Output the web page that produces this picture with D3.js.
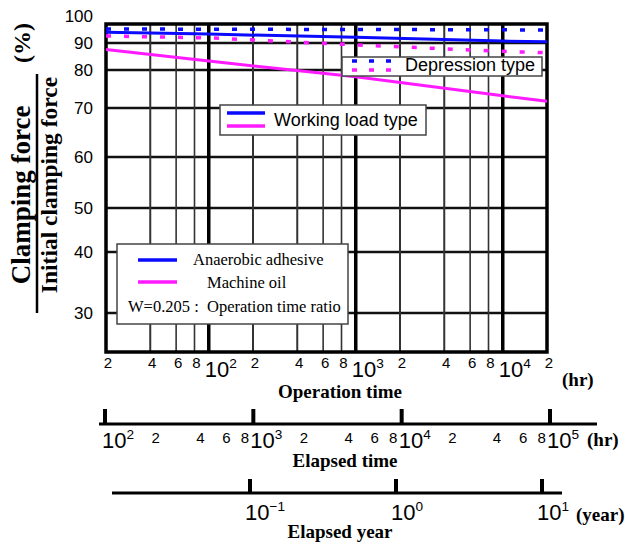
<!DOCTYPE html>
<html>
<head>
<meta charset="utf-8">
<script src="https://cdn.jsdelivr.net/npm/d3@7"></script>
<style>
  body { margin: 0; background: #fff; }
  svg { display: block; }
  .serif { font-family: "Liberation Serif", "Times New Roman", serif; }
  .sans { font-family: "Liberation Sans", Arial, sans-serif; }
  .narrow { font-family: "Liberation Sans Narrow", "Arial Narrow", sans-serif; }
</style>
</head>
<body>
<div class="chart"></div>
<script>
const opTime = [20, 100, 1000, 10000, 20000];
// clamping force / initial clamping force (%)
const adhesiveWorking = [94.0, 93.3, 92.1, 90.7, 90.5];
const adhesiveDepression = [95.2, 95.1, 95.0, 94.9, 94.8];
const oilWorking = [87.6, 83.3, 78.2, 73.2, 71.8];
const oilDepression = [92.6, 91.9, 89.3, 86.9, 86.4];

const yTicks = [100, 90, 80, 70, 60, 50, 40, 30];
const opDecades = [100, 1000, 10000];
const opMinor = [40, 60, 80, 200, 400, 600, 800, 2000, 4000, 6000, 8000];
const opMinorLabels = [20, 40, 60, 80, 200, 400, 600, 800, 2000, 4000, 6000, 8000, 20000];
const elapsedDecades = [100, 1000, 10000, 100000];
const elapsedMinorLabels = [200, 400, 600, 800, 2000, 4000, 6000, 8000, 20000, 40000, 60000, 80000];
const yearDecades = [0.1, 1, 10];

const W = 625, H = 544;
const plotLeft = 106, plotRight = 547, plotTop = 24, plotBottom = 352;

const svg = d3.select(".chart").append("svg")
  .attr("width", W).attr("height", H);

const x = d3.scaleLog().domain([20, 20000]).range([plotLeft, plotRight]);
// printed ordinate is not a clean log scale, so map it piece by piece
const y = d3.scaleLinear().domain(yTicks).range([16, 43, 70, 108, 157, 208, 252, 313]);
const xElapsed = d3.scaleLog().domain([100, 100000]).range([105, 550]);
const xYear = d3.scaleLog().domain([0.1, 10]).range([250, 542]);

const mantissa = (d) => Math.round(d / Math.pow(10, Math.floor(Math.log10(d) + 1e-9)));
const expo = (d) => Math.round(Math.log10(d));

//grid
const grid = svg.append("g");
grid.selectAll(".hg").data(yTicks.slice(1)).join("line")
  .attr("x1", plotLeft).attr("x2", plotRight)
  .attr("y1", (d) => y(d)).attr("y2", (d) => y(d))
  .attr("stroke", "#111").attr("stroke-width", 2.5);
grid.selectAll(".vm").data(opMinor).join("line")
  .attr("x1", (d) => x(d)).attr("x2", (d) => x(d))
  .attr("y1", plotTop).attr("y2", plotBottom)
  .attr("stroke", "#333").attr("stroke-width", (d) => mantissa(d) <= 4 ? 2 : 1.6);
grid.selectAll(".vd").data(opDecades).join("line")
  .attr("x1", (d) => x(d)).attr("x2", (d) => x(d))
  .attr("y1", plotTop).attr("y2", plotBottom)
  .attr("stroke", "#000").attr("stroke-width", 3.5);

// frame
svg.append("rect")
  .attr("x", plotLeft).attr("y", plotTop)
  .attr("width", plotRight - plotLeft).attr("height", plotBottom - plotTop)
  .attr("fill", "none").attr("stroke", "#000").attr("stroke-width", 3.5);

// curves
const line = d3.line().x((d, i) => x(opTime[i])).y((d) => y(d));
const curves = [
  { v: adhesiveDepression, c: "#0a0aff", dash: "5,13" },
  { v: oilDepression, c: "#ff1aff", dash: "5,13" },
  { v: adhesiveWorking, c: "#0a0aff", dash: null },
  { v: oilWorking, c: "#ff1aff", dash: null },
];
svg.selectAll(".curve").data(curves).join("path")
  .attr("d", (d) => line(d.v))
  .attr("fill", "none")
  .attr("stroke", (d) => d.c)
  .attr("stroke-width", (d) => d.dash ? 3.5 : 3)
  .attr("stroke-dasharray", (d) => d.dash);

// y tick labels
svg.selectAll(".ylab").data(yTicks).join("text")
  .attr("class", "narrow")
  .attr("x", 93).attr("y", (d) => y(d))
  .attr("dy", "0.36em")
  .attr("text-anchor", "end")
  .attr("font-size", 17)
  .text((d) => d);

// y title
const yt = svg.append("g").attr("class", "serif").attr("font-weight", "bold");
yt.append("text").attr("transform", "translate(30,195) rotate(-90)")
  .attr("text-anchor", "middle").attr("font-size", 27)
  .text("Clamping force");
yt.append("text").attr("transform", "translate(57,185) rotate(-90)")
  .attr("text-anchor", "middle").attr("font-size", 23.5)
  .text("Initial clamping force");
yt.append("text").attr("transform", "translate(30,43) rotate(-90)")
  .attr("text-anchor", "middle").attr("font-size", 24).text("(%)");
svg.append("line").attr("x1", 37).attr("x2", 37).attr("y1", 74).attr("y2", 313)
  .attr("stroke", "#000").attr("stroke-width", 2.5);

// decade label helper: 10 with superscript
function decadeLabel(sel, exp, size) {
  sel.append("tspan").text("10");
  sel.append("tspan").attr("font-size", size * 0.62).attr("dy", -size * 0.42).text(exp);
}

// operation time axis labels
svg.selectAll(".opm").data(opMinorLabels).join("text")
  .attr("class", "narrow")
  .attr("x", (d) => x(d) + 2).attr("y", 368)
  .attr("text-anchor", "middle").attr("font-size", 15)
  .text((d) => mantissa(d));
svg.selectAll(".opd").data(opDecades).join("text")
  .attr("class", "narrow")
  .attr("x", (d) => x(d) - 4).attr("y", 377)
  .attr("font-size", 22)
  .each(function (d) { decadeLabel(d3.select(this), expo(d), 22); });

const bold = (t, xx, yy, anchor) => svg.append("text").attr("class", "serif")
  .attr("font-weight", "bold").attr("font-size", 19)
  .attr("x", xx).attr("y", yy).attr("text-anchor", anchor || "middle").text(t);
bold("Operation time", 340, 398);
bold("(hr)", 562, 386, "start");

// elapsed time axis
const ea = svg.append("g");
ea.append("line").attr("x1", 99).attr("x2", 597).attr("y1", 424).attr("y2", 424)
  .attr("stroke", "#000").attr("stroke-width", 3);
ea.selectAll(".et").data(elapsedDecades).join("line")
  .attr("x1", (d) => xElapsed(d)).attr("x2", (d) => xElapsed(d))
  .attr("y1", 409).attr("y2", 425)
  .attr("stroke", "#000").attr("stroke-width", 4);
ea.selectAll(".em").data(elapsedMinorLabels).join("text")
  .attr("class", "narrow")
  .attr("x", (d) => xElapsed(d) + 6).attr("y", 443)
  .attr("text-anchor", "middle").attr("font-size", 15)
  .text((d) => mantissa(d));
ea.selectAll(".ed").data(elapsedDecades).join("text")
  .attr("class", "narrow")
  .attr("x", (d) => xElapsed(d) - 3).attr("y", 448)
  .attr("font-size", 22)
  .each(function (d) { decadeLabel(d3.select(this), expo(d), 22); });
bold("Elapsed time", 345, 467);
bold("(hr)", 587, 446, "start");

// elapsed year axis
const ya = svg.append("g");
ya.append("line").attr("x1", 112).attr("x2", 562).attr("y1", 493).attr("y2", 493)
  .attr("stroke", "#000").attr("stroke-width", 3);
ya.selectAll(".yt").data(yearDecades).join("line")
  .attr("x1", (d) => xYear(d)).attr("x2", (d) => xYear(d))
  .attr("y1", 479).attr("y2", 494)
  .attr("stroke", "#000").attr("stroke-width", 4);
ya.selectAll(".yd").data(yearDecades).join("text")
  .attr("class", "narrow")
  .attr("x", (d) => xYear(d) - 5).attr("y", 520)
  .attr("font-size", 22)
  .each(function (d) { decadeLabel(d3.select(this), expo(d) < 0 ? "\u2212" + (-expo(d)) : expo(d), 22); });
bold("Elapsed year", 340, 538);
bold("(year)", 576, 521, "start");

// legend: depression type
const lg1 = svg.append("g");
lg1.append("rect").attr("x", 342).attr("y", 57).attr("width", 200).attr("height", 19)
  .attr("fill", "#fff").attr("stroke", "#444").attr("stroke-width", 1.5);
lg1.selectAll("line").data(curves.slice(0, 2)).join("line")
  .attr("x1", 352).attr("x2", 396)
  .attr("y1", (d, i) => 61 + i * 9).attr("y2", (d, i) => 61 + i * 9)
  .attr("stroke", (d) => d.c).attr("stroke-width", 3.5).attr("stroke-dasharray", "5,12");
lg1.append("text").attr("class", "sans").attr("x", 405).attr("y", 71)
  .attr("font-size", 18).text("Depression type");

// legend: working load type
const lg2 = svg.append("g");
lg2.append("rect").attr("x", 220).attr("y", 105).attr("width", 206).attr("height", 30)
  .attr("fill", "#fff").attr("stroke", "#444").attr("stroke-width", 1.5);
lg2.selectAll("line").data(curves.slice(2)).join("line")
  .attr("x1", 227).attr("x2", 265)
  .attr("y1", (d, i) => 113 + i * 13).attr("y2", (d, i) => 113 + i * 13)
  .attr("stroke", (d) => d.c).attr("stroke-width", 3.5);
lg2.append("text").attr("class", "sans").attr("x", 274).attr("y", 126)
  .attr("font-size", 18).text("Working load type");

// legend: materials
const lg3 = svg.append("g");
lg3.append("rect").attr("x", 117).attr("y", 244).attr("width", 231).attr("height", 80)
  .attr("fill", "#fff").attr("stroke", "#444").attr("stroke-width", 1.5);
lg3.selectAll("line").data(curves.slice(2)).join("line")
  .attr("x1", 138).attr("x2", 177)
  .attr("y1", (d, i) => 260 + i * 22).attr("y2", (d, i) => 260 + i * 22)
  .attr("stroke", (d) => d.c).attr("stroke-width", 3.5);
const lt = lg3.append("g").attr("class", "serif").attr("font-size", 16.5);
lt.append("text").attr("x", 193).attr("y", 265).text("Anaerobic adhesive");
lt.append("text").attr("x", 207).attr("y", 288).text("Machine oil");
lt.append("text").attr("x", 128).attr("y", 312).text("W=0.205 :\u00a0\u00a0Operation time ratio");
</script>
</body>
</html>
